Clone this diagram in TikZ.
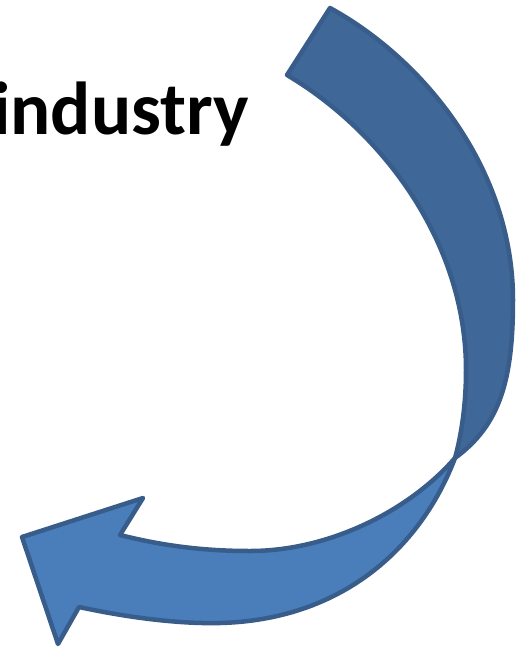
\documentclass[tikz,border=0pt]{standalone}
\usepackage{fontspec}
\setmainfont{Carlito}
\definecolor{darkband}{HTML}{3F6797}
\definecolor{lightband}{HTML}{4A7EBB}
\definecolor{edge}{HTML}{385D8A}
\begin{document}
\begin{tikzpicture}[x=1pt,y=-1pt,
  band/.style={draw=edge,line width=4.5pt,line join=round}]
\useasboundingbox (0,0) rectangle (520,649);
\node[anchor=base west,inner sep=0pt,font=\fontsize{75}{84}\selectfont\bfseries] (label) at (-8,134) {industry};
% lower (light) band with arrowhead
\filldraw[band,fill=lightband] (455,458)
  .. controls (410,510) and (330,551) .. (250,551)
  .. controls (200,551) and (160,545) .. (120,535)
  -- (143,498) -- (22,537) -- (58,644) -- (79,607)
  .. controls (130,618) and (180,624) .. (220,623)
  .. controls (340,620) and (420,550) .. (455,458) -- cycle;
% upper (dark) band
\filldraw[band,fill=darkband] (287,75) -- (330,8)
  .. controls (425,60) and (513,170) .. (513,300)
  .. controls (513,380) and (500,425) .. (455,458)
  .. controls (460,440) and (466,410) .. (466,370)
  .. controls (466,240) and (380,130) .. (287,75) -- cycle;
\end{tikzpicture}
\end{document}
